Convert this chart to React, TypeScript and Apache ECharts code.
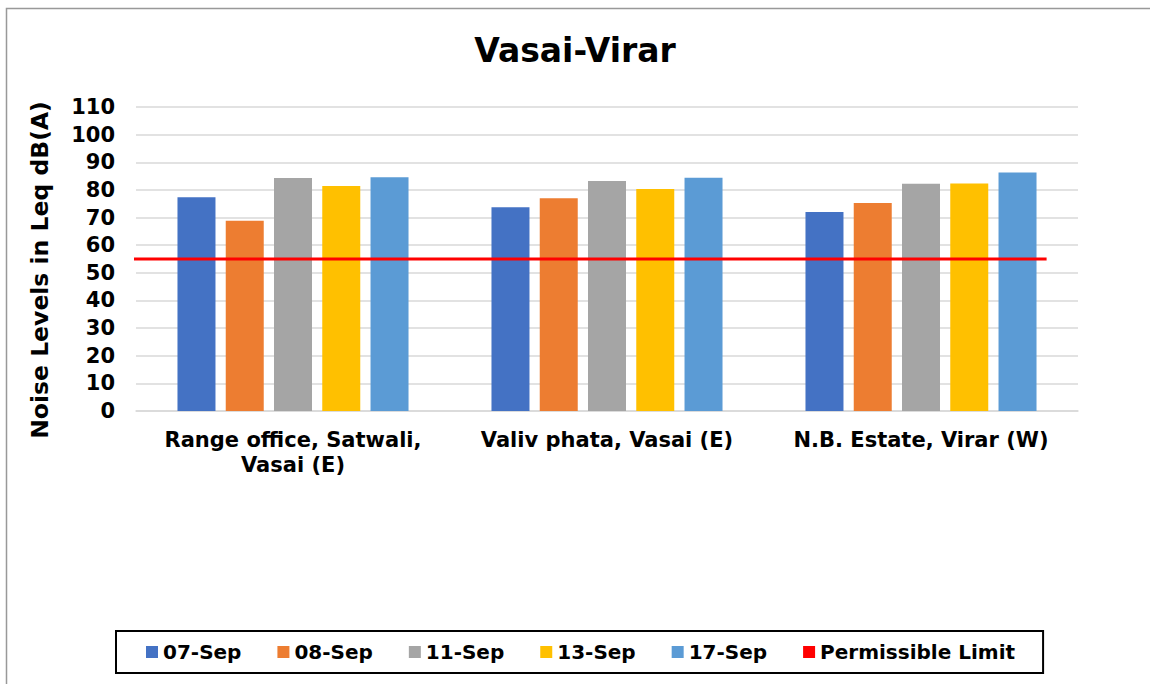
import React, { useEffect, useRef } from "react";
import * as echarts from "echarts";

const categories = ["Range office, Satwali,\nVasai (E)", "Valiv phata, Vasai (E)", "N.B. Estate, Virar (W)"];
const sep07 = [77.3, 73.7, 72.0];
const sep08 = [68.8, 77.0, 75.3];
const sep11 = [84.3, 83.2, 82.2];
const sep13 = [81.4, 80.3, 82.3];
const sep17 = [84.6, 84.4, 86.3];
const limitValue = 55;
const limitX = [-0.02, 2.9];
const seriesNames = ["07-Sep", "08-Sep", "11-Sep", "13-Sep", "17-Sep"];
const seriesColors = ["#4472C4", "#ED7D31", "#A5A5A5", "#FFC000", "#5B9BD5"];

const FONT = "'DejaVu Sans', Verdana, sans-serif";

export default function App() {
  const ref = useRef<HTMLDivElement>(null);
  useEffect(() => {
    if (!ref.current) return;
    const chart = echarts.init(ref.current, undefined, { renderer: "svg" });
    const values = [sep07, sep08, sep11, sep13, sep17];
    const barSeries = values.map((v, i) => ({
      name: seriesNames[i],
      type: "bar",
      data: v,
      barWidth: 38,
      barGap: "27%",
      itemStyle: { color: seriesColors[i] },
      xAxisIndex: 0,
      yAxisIndex: 0,
    }));
    chart.setOption({
      animation: false,
      backgroundColor: "#fff",
      textStyle: { fontFamily: FONT },
      title: {
        text: "Vasai-Virar",
        left: "center",
        top: 29,
        textStyle: { fontFamily: FONT, fontWeight: "bold", fontSize: 33, color: "#000" },
      },
      graphic: [
        {
          type: "rect",
          shape: { x: 6.5, y: 8.5, width: 1300, height: 1000 },
          style: { fill: "none", stroke: "#999", lineWidth: 1.5 },
          silent: true,
        },
        {
          type: "text",
          x: 40,
          y: 270,
          rotation: Math.PI / 2,
          style: {
            text: "Noise Levels in Leq dB(A)",
            fontFamily: FONT,
            fontWeight: "bold",
            fontSize: 23.5,
            fill: "#000",
            align: "center",
            verticalAlign: "middle",
          },
        },
      ],
      legend: {
        left: 116,
        top: 631,
        padding: [10, 28, 10, 30],
        borderColor: "#000",
        borderWidth: 2,
        itemWidth: 12,
        itemHeight: 12,
        itemGap: 36,
        icon: "rect",
        textStyle: { fontFamily: FONT, fontWeight: "bold", fontSize: 20, color: "#000", lineHeight: 22 },
        data: [...seriesNames, "Permissible Limit"],
      },
      grid: { left: 136, right: 72, top: 107, bottom: 273, containLabel: false },
      xAxis: [
        {
          type: "category",
          data: categories,
          axisLine: { lineStyle: { color: "#d9d9d9", width: 1.5 } },
          axisTick: { show: false },
          axisLabel: {
            color: "#000",
            fontFamily: FONT,
            fontWeight: "bold",
            fontSize: 21,
            lineHeight: 25,
            margin: 16,
            interval: 0,
          },
        },
        { type: "value", min: 0, max: 3, show: false },
      ],
      yAxis: {
        type: "value",
        min: 0,
        max: 110,
        interval: 10,
        axisLine: { show: false },
        axisTick: { show: false },
        splitLine: { lineStyle: { color: "#d9d9d9", width: 1.5 } },
        axisLabel: { color: "#000", fontFamily: FONT, fontWeight: "bold", fontSize: 21, margin: 21 },
      },
      series: [
        ...barSeries,
        {
          name: "Permissible Limit",
          type: "line",
          xAxisIndex: 1,
          yAxisIndex: 0,
          data: limitX.map((x) => [x, limitValue]),
          showSymbol: false,
          clip: false,
          lineStyle: { color: "#FF0000", width: 3 },
          itemStyle: { color: "#FF0000" },
          z: 5,
        },
      ],
    });
    return () => chart.dispose();
  }, []);
  return (
    <div
      ref={ref}
      style={{ position: "absolute", left: 0, top: 0, width: 1150, height: 684 }}
    />
  );
}
